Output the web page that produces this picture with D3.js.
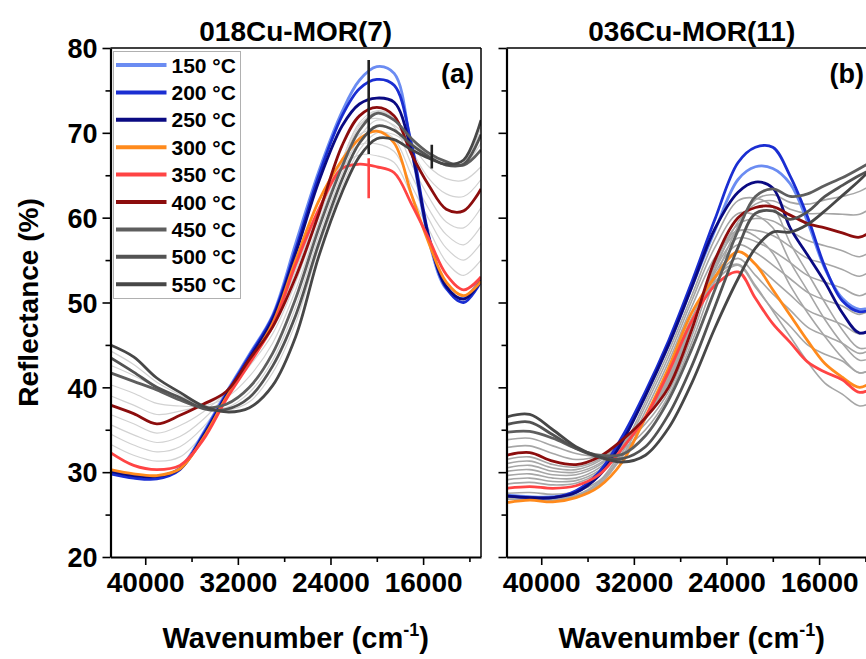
<!DOCTYPE html>
<html>
<head>
<meta charset="utf-8">
<script src="https://cdn.jsdelivr.net/npm/d3@7"></script>
<style>
  body { margin: 0; background: #fff; }
  svg { display: block; font-family: Arial, "Liberation Sans", sans-serif; font-weight: bold; }
</style>
</head>
<body>
<svg id="chart" width="866" height="659"></svg>
<script>
// wavenumber grid (cm-1) the curves were read at
const wavenumbers = [43000, 41000, 39000, 37000, 35000, 33000, 31000, 29000, 27000, 25000, 23000, 21500, 20000, 18500, 17000, 15500, 14000, 12500, 11000];
const temperatures = ["150 °C", "200 °C", "250 °C", "300 °C", "350 °C", "400 °C", "450 °C", "500 °C", "550 °C"];
const yTicks = [20, 30, 40, 50, 60, 70, 80];
const yMinor = [25, 35, 45, 55, 65, 75];
const xTicks = [40000, 32000, 24000, 16000];
const xMinor = [36000, 28000, 20000, 12000];
const titles = ["018Cu-MOR(7)", "036Cu-MOR(11)"];
const panelTags = ["(a)", "(b)"];

// 018Cu-MOR(7), reflectance %
const mor7_150 = [30.0, 29.5, 29.4, 30.5, 34.6, 39.4, 43.9, 48.5, 57.0, 65.5, 72.5, 76.2, 77.8, 77.0, 68.0, 57.3, 51.6, 50.5, 53.0];
const mor7_200 = [29.8, 29.3, 29.2, 30.3, 34.4, 39.2, 43.7, 48.3, 56.3, 65.0, 72.0, 75.2, 76.3, 75.6, 68.7, 57.8, 51.7, 50.0, 52.5];
const mor7_250 = [30.1, 29.6, 29.5, 30.4, 34.2, 39.0, 43.4, 48.0, 55.8, 64.3, 70.8, 73.4, 74.1, 73.6, 67.8, 57.6, 51.9, 50.4, 52.6];
const mor7_300 = [30.3, 29.8, 29.6, 30.4, 34.0, 38.8, 43.0, 47.5, 55.0, 62.0, 66.8, 69.3, 70.2, 68.8, 62.7, 57.0, 52.4, 50.8, 52.5];
const mor7_350 = [32.3, 30.8, 30.3, 30.8, 33.8, 38.6, 42.8, 47.2, 54.5, 61.0, 65.8, 66.3, 66.0, 65.3, 61.6, 57.5, 53.3, 51.5, 53.0];
const mor7_400 = [37.9, 36.9, 35.7, 36.7, 38.0, 39.5, 43.3, 47.1, 53.0, 60.5, 68.5, 72.0, 73.0, 72.0, 67.5, 63.8, 61.0, 60.8, 63.4];
const mor7_450 = [41.7, 40.7, 39.7, 38.5, 37.6, 38.0, 40.0, 44.0, 50.5, 58.8, 66.0, 70.3, 72.3, 71.5, 69.3, 67.6, 66.6, 66.2, 68.0];
const mor7_500 = [43.5, 41.8, 40.0, 38.8, 37.5, 37.4, 38.8, 42.5, 48.5, 57.0, 64.5, 68.8, 70.8, 70.3, 68.6, 67.2, 66.2, 66.3, 69.8];
const mor7_550 = [45.0, 43.6, 41.1, 39.4, 37.8, 37.1, 37.6, 40.2, 46.0, 55.5, 63.0, 67.2, 69.3, 69.2, 68.0, 67.0, 66.3, 66.8, 71.5];
// intermediate temperatures (thin grey)
const mor7_grey = [
  [33.3, 32.0, 31.3, 31.8, 34.5, 38.8, 42.9, 47.2, 54.3, 60.9, 66.0, 67.4, 67.3, 66.5, 62.6, 58.6, 54.8, 53.2, 55.0],
  [34.5, 33.2, 32.4, 33.0, 35.3, 39.0, 43.0, 47.2, 54.0, 60.8, 66.3, 68.6, 68.7, 67.8, 63.8, 59.8, 56.4, 55.0, 57.0],
  [35.6, 34.4, 33.5, 34.2, 36.2, 39.2, 43.1, 47.2, 53.7, 60.7, 66.5, 69.8, 70.3, 69.3, 65.0, 61.0, 58.0, 56.8, 59.0],
  [36.8, 35.7, 34.6, 35.5, 37.1, 39.4, 43.2, 47.1, 53.3, 60.6, 66.8, 71.0, 71.7, 70.7, 66.3, 62.4, 59.5, 58.8, 61.2],
  [39.0, 37.9, 36.8, 37.2, 37.9, 39.3, 42.5, 46.3, 52.4, 60.1, 66.8, 71.2, 72.6, 71.8, 68.0, 64.6, 62.8, 62.5, 64.5],
  [40.3, 39.3, 38.1, 37.8, 37.8, 38.8, 41.3, 45.2, 51.5, 59.5, 66.4, 70.8, 72.5, 71.7, 68.7, 66.0, 64.6, 64.4, 66.0],
  [42.6, 41.4, 40.0, 38.7, 37.6, 37.6, 39.4, 43.2, 49.5, 57.9, 65.2, 69.5, 71.5, 70.9, 69.0, 67.4, 66.5, 66.3, 68.8],
  [44.3, 42.7, 40.6, 39.1, 37.6, 37.3, 38.3, 41.7, 47.6, 56.5, 63.7, 68.0, 70.0, 69.8, 68.4, 67.1, 66.2, 66.5, 70.6]
];
// detector-change jumps in (a): wavenumber, series index, low, high
const mor7_jumpW = [20700, 20700, 15250];
const mor7_jumpSeries = [8, 4, 8];
const mor7_jumpLow = [67.5, 62.3, 65.8];
const mor7_jumpHigh = [78.6, 67.0, 68.6];

// 036Cu-MOR(11), reflectance %
const mor11_150 = [27.3, 27.1, 27.1, 27.6, 29.8, 33.8, 39.1, 45.0, 51.8, 58.5, 64.5, 66.0, 65.8, 64.0, 59.5, 54.0, 50.5, 49.2, 49.8];
const mor11_200 = [27.2, 27.0, 27.0, 27.8, 30.0, 34.2, 39.5, 45.5, 52.4, 59.8, 66.5, 68.3, 68.3, 64.9, 60.1, 54.2, 50.2, 48.9, 49.5];
const mor11_250 = [27.2, 27.0, 27.0, 27.6, 29.6, 33.6, 39.0, 45.0, 51.8, 58.7, 63.0, 64.2, 63.5, 58.8, 55.6, 52.4, 48.8, 46.4, 47.2];
const mor11_300 = [26.4, 26.7, 26.5, 27.0, 28.3, 31.2, 36.5, 42.3, 48.8, 53.0, 56.0, 54.5, 51.5, 48.5, 45.5, 42.8, 41.2, 40.0, 41.0];
const mor11_350 = [28.1, 28.3, 28.1, 28.4, 29.7, 32.8, 36.5, 41.8, 47.8, 52.0, 53.6, 50.5, 47.5, 45.3, 43.0, 41.8, 40.9, 39.4, 40.3];
const mor11_400 = [32.0, 32.3, 31.3, 30.9, 31.8, 33.8, 36.4, 40.0, 46.8, 55.0, 60.0, 61.2, 61.3, 60.3, 59.3, 58.8, 58.2, 57.7, 59.0];
const mor11_450 = [34.7, 34.8, 34.0, 32.8, 32.0, 32.1, 34.3, 38.5, 44.5, 51.5, 58.5, 62.5, 63.4, 62.5, 62.8, 63.8, 64.7, 65.8, 67.0];
const mor11_500 = [35.6, 35.9, 34.4, 32.8, 31.8, 31.6, 33.0, 36.8, 42.5, 49.5, 56.5, 60.5, 60.8, 59.8, 60.7, 62.5, 63.8, 65.0, 66.0];
const mor11_550 = [36.5, 36.8, 35.0, 33.0, 31.8, 31.2, 32.0, 35.2, 40.5, 47.0, 52.8, 56.4, 58.3, 58.3, 59.2, 60.8, 62.6, 64.4, 66.5];
const mor11_grey = [
  [27.1, 26.9, 26.9, 27.3, 28.9, 32.7, 38.3, 44.2, 50.8, 57.5, 62.0, 62.3, 61.3, 57.0, 53.5, 50.0, 46.8, 44.6, 45.2],
  [27.0, 26.8, 26.8, 27.2, 28.7, 32.3, 37.8, 43.6, 50.2, 56.5, 60.5, 60.3, 58.8, 54.8, 51.4, 48.0, 45.2, 43.2, 43.8],
  [26.8, 26.8, 26.7, 27.1, 28.5, 31.9, 37.2, 43.0, 49.5, 55.3, 58.5, 57.8, 55.8, 52.0, 48.8, 46.0, 43.5, 41.7, 42.5],
  [27.5, 27.6, 27.4, 27.7, 29.0, 31.8, 36.2, 42.0, 48.2, 53.0, 54.5, 52.0, 49.0, 46.0, 43.0, 40.5, 39.2, 37.8, 38.6],
  [28.6, 28.8, 28.5, 28.7, 30.0, 32.9, 36.5, 41.6, 47.7, 52.4, 54.4, 51.8, 49.2, 47.2, 45.0, 43.9, 43.1, 41.7, 42.6],
  [29.1, 29.3, 28.9, 29.0, 30.2, 33.1, 36.5, 41.4, 47.6, 52.8, 55.2, 53.2, 51.0, 49.1, 47.1, 46.1, 45.2, 44.0, 45.0],
  [29.6, 29.8, 29.3, 29.3, 30.5, 33.2, 36.5, 41.1, 47.4, 53.1, 56.0, 54.5, 52.7, 50.9, 49.1, 48.2, 47.4, 46.3, 47.3],
  [30.1, 30.3, 29.7, 29.7, 30.8, 33.3, 36.5, 40.9, 47.3, 53.5, 56.8, 55.9, 54.4, 52.8, 51.2, 50.3, 49.6, 48.6, 49.7],
  [30.5, 30.8, 30.1, 30.0, 31.0, 33.4, 36.4, 40.7, 47.2, 53.9, 57.6, 57.2, 56.1, 54.7, 53.2, 52.4, 51.7, 50.8, 52.0],
  [31.0, 31.3, 30.5, 30.3, 31.3, 33.6, 36.4, 40.5, 47.0, 54.3, 58.4, 58.5, 57.9, 56.6, 55.2, 54.6, 53.9, 53.1, 54.3],
  [31.5, 31.8, 30.9, 30.6, 31.5, 33.7, 36.4, 40.2, 46.9, 54.6, 59.2, 59.9, 59.6, 58.4, 57.3, 56.7, 56.1, 55.4, 56.6],
  [32.9, 33.1, 32.2, 31.5, 31.9, 33.2, 35.7, 39.5, 46.0, 53.8, 59.5, 61.6, 62.0, 61.0, 60.5, 60.5, 60.4, 60.4, 61.7],
  [33.8, 34.0, 33.1, 32.2, 31.9, 32.7, 35.0, 39.0, 45.3, 52.7, 59.0, 62.1, 62.7, 61.8, 61.6, 62.1, 62.5, 63.1, 64.3]
];

const colors = ["#6b8cf2", "#1a2ed2", "#0a0a82", "#ff8a1c", "#ff4444", "#8c0d0d", "#5e5e5e", "#535353", "#474747"];

const panels = [
  {
    x0: 110.5,
    series: [mor7_150, mor7_200, mor7_250, mor7_300, mor7_350, mor7_400, mor7_450, mor7_500, mor7_550],
    grey: mor7_grey, greyColor: "#d2d2d2", greyWidth: 1.2,
    jumps: mor7_jumpW.map((w, i) => ({ w, s: mor7_jumpSeries[i], lo: mor7_jumpLow[i], hi: mor7_jumpHigh[i] })),
  },
  {
    x0: 506.5,
    series: [mor11_150, mor11_200, mor11_250, mor11_300, mor11_350, mor11_400, mor11_450, mor11_500, mor11_550],
    grey: mor11_grey, greyColor: "#a6a6a6", greyWidth: 1.6,
    jumps: [],
  },
];

const PANEL_W = 370.5;
const TOP = 48;
const BOTTOM = 557;

const svg = d3.select("#chart");
svg.append("rect").attr("width", 866).attr("height", 659).attr("fill", "#fff");

const y = d3.scaleLinear().domain([20, 80]).range([BOTTOM, TOP]);

panels.forEach((p, pi) => {
  const x = d3.scaleLinear().domain([43000, 11000]).range([p.x0, p.x0 + PANEL_W]);
  const g = svg.append("g");

  const clipId = `clip${pi}`;
  svg.append("clipPath").attr("id", clipId)
    .append("rect").attr("x", p.x0).attr("y", TOP).attr("width", PANEL_W).attr("height", BOTTOM - TOP);

  const line = d3.line()
    .x((d, i) => x(wavenumbers[i]))
    .y((d) => y(d))
    .curve(d3.curveCatmullRom.alpha(0.5));

  const curves = g.append("g").attr("clip-path", `url(#${clipId})`).attr("fill", "none");
  curves.selectAll("path.grey").data(p.grey).enter().append("path")
    .attr("class", "grey")
    .attr("d", line)
    .attr("stroke", p.greyColor)
    .attr("stroke-width", p.greyWidth);
  curves.selectAll("path.temp").data(p.series).enter().append("path")
    .attr("class", "temp")
    .attr("d", line)
    .attr("stroke", (d, i) => colors[i])
    .attr("stroke-width", 2.8)
    .attr("stroke-linejoin", "round");
  curves.selectAll("line.jump").data(p.jumps).enter().append("line")
    .attr("class", "jump")
    .attr("x1", (d) => x(d.w)).attr("x2", (d) => x(d.w))
    .attr("y1", (d) => y(d.lo)).attr("y2", (d) => y(d.hi))
    .attr("stroke", (d) => (d.s === 8 ? "#222" : colors[d.s]))
    .attr("stroke-width", 2.6);

  // frame top / right
  g.append("line").attr("x1", p.x0).attr("x2", p.x0 + PANEL_W).attr("y1", TOP).attr("y2", TOP)
    .attr("stroke", "#000").attr("stroke-width", 1.5);
  g.append("line").attr("x1", p.x0 + PANEL_W).attr("x2", p.x0 + PANEL_W).attr("y1", TOP).attr("y2", BOTTOM)
    .attr("stroke", "#000").attr("stroke-width", 1.5);

  // y axis
  const yAxis = d3.axisLeft(y).tickValues(yTicks).tickSize(8).tickSizeOuter(0).tickPadding(5)
    .tickFormat(pi === 0 ? d3.format("d") : () => "");
  const ya = g.append("g").attr("transform", `translate(${p.x0},0)`).call(yAxis);
  g.append("g").attr("transform", `translate(${p.x0},0)`)
    .call(d3.axisLeft(y).tickValues(yMinor).tickSize(5).tickSizeOuter(0).tickFormat(() => ""))
    .select(".domain").remove();

  // x axis
  const xa = g.append("g").attr("transform", `translate(0,${BOTTOM})`)
    .call(d3.axisBottom(x).tickValues(xTicks).tickSize(8).tickSizeOuter(0).tickPadding(7).tickFormat(d3.format("d")));
  g.append("g").attr("transform", `translate(0,${BOTTOM})`)
    .call(d3.axisBottom(x).tickValues(xMinor).tickSize(5).tickSizeOuter(0).tickFormat(() => ""))
    .select(".domain").remove();

  g.selectAll(".domain").attr("stroke", "#000").attr("stroke-width", 2.2);
  g.selectAll(".tick line").attr("stroke", "#000").attr("stroke-width", 1.6);
  ya.selectAll("text").attr("font-size", 27).attr("font-family", "Arial, 'Liberation Sans', sans-serif")
    .attr("font-weight", "bold").attr("fill", "#000").attr("dy", "0.36em");
  xa.selectAll("text").attr("font-size", 28).attr("font-family", "Arial, 'Liberation Sans', sans-serif")
    .attr("font-weight", "bold").attr("fill", "#000");

  // titles
  g.append("text").attr("x", p.x0 + PANEL_W / 2).attr("y", 41).attr("text-anchor", "middle")
    .attr("font-size", 28).text(titles[pi]);
  g.append("text").attr("x", Math.min(p.x0 + PANEL_W - 7, 864)).attr("y", 83).attr("text-anchor", "end")
    .attr("font-size", 27).text(panelTags[pi]);
  g.append("text").attr("x", p.x0 + PANEL_W / 2).attr("y", 648).attr("text-anchor", "middle")
    .attr("font-size", 29)
    .call((t) => {
      t.append("tspan").text("Wavenumber (cm");
      t.append("tspan").attr("font-size", 18).attr("dy", -12).text("-1");
      t.append("tspan").attr("dy", 12).text(")");
    });

  if (pi === 0) {
    // legend
    const lg = g.append("g").attr("transform", "translate(113.5,51.5)");
    lg.append("rect").attr("width", 127).attr("height", 247).attr("fill", "#fff")
      .attr("stroke", "#b0b0b0").attr("stroke-width", 1);
    temperatures.forEach((t, i) => {
      const yy = 13.5 + i * 27.4;
      lg.append("line").attr("x1", 2.5).attr("x2", 53).attr("y1", yy).attr("y2", yy)
        .attr("stroke", colors[i]).attr("stroke-width", 4);
      lg.append("text").attr("x", 58).attr("y", yy + 7.5).attr("font-size", 21).text(t);
    });
  }
});

svg.append("text")
  .attr("transform", `translate(38,${(TOP + BOTTOM) / 2}) rotate(-90)`)
  .attr("text-anchor", "middle").attr("font-size", 28)
  .text("Reflectance (%)");
</script>
</body>
</html>
